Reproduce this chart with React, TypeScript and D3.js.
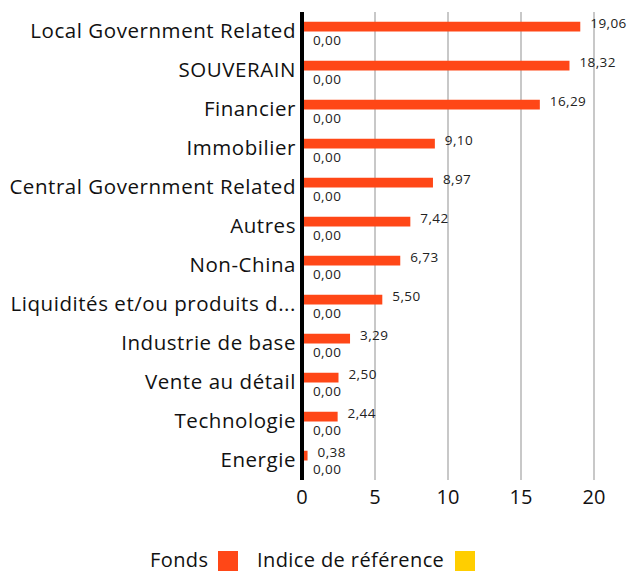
import React from "react";
import * as d3 from "d3";

const categories = [
  "Local Government Related",
  "SOUVERAIN",
  "Financier",
  "Immobilier",
  "Central Government Related",
  "Autres",
  "Non-China",
  "Liquidités et/ou produits d...",
  "Industrie de base",
  "Vente au détail",
  "Technologie",
  "Energie",
];
const fundValues = [19.06, 18.32, 16.29, 9.1, 8.97, 7.42, 6.73, 5.5, 3.29, 2.5, 2.44, 0.38];
const benchValues = [0, 0, 0, 0, 0, 0, 0, 0, 0, 0, 0, 0];
const xTicks = [0, 5, 10, 15, 20];
const seriesNames = ["Fonds", "Indice de référence"];
const seriesColors = ["#FF4717", "#FFCE00"];

const W = 628;
const H = 575;
const left = 302;
const right = 594;
const top = 12;
const bottom = 480;
const font = "'Open Sans', sans-serif";

const fmt = (v: number) => v.toFixed(2).replace(".", ",");

export default function App() {
  const x = d3.scaleLinear().domain([0, 20]).range([left, right]);
  const y = d3.scaleBand<string>().domain(categories).range([top, bottom]).paddingInner(0).paddingOuter(0);
  const sub = d3.scaleBand<string>().domain(["f", "b"]).range([0, y.bandwidth()]).paddingOuter(1).paddingInner(0);

  return (
    <svg width={W} height={H} style={{ position: "absolute", left: 0, top: 0 }}>
      {xTicks.map((t) =>
        t === 0 ? null : (
          <line key={"g" + t} x1={x(t)} x2={x(t)} y1={top} y2={bottom} stroke="#c8c8c8" strokeWidth={2} />
        )
      )}
      {categories.map((c, i) => {
        const y0 = y(c)!;
        const fy = y0 + sub("f")!;
        const by = y0 + sub("b")!;
        const bh = sub.bandwidth();
        return (
          <g key={c}>
            <text x={296} y={y0 + y.bandwidth() / 2 + 1} textAnchor="end" dominantBaseline="middle" fontFamily={font} fontSize={20.5} letterSpacing={0.55} fill="#111">
              {c}
            </text>
            <rect x={x(0)} y={fy} width={x(fundValues[i]) - x(0)} height={bh} fill={seriesColors[0]} />
            <rect x={x(0)} y={by} width={x(benchValues[i]) - x(0)} height={bh} fill={seriesColors[1]} />
            <text x={x(fundValues[i]) + 10} y={fy + bh / 2 - 2} dominantBaseline="middle" fontFamily={font} fontSize={13.5} letterSpacing={0.4} fill="#222">
              {fmt(fundValues[i])}
            </text>
            <text x={x(benchValues[i]) + 11} y={by + bh / 2 + 5} dominantBaseline="middle" fontFamily={font} fontSize={13.5} letterSpacing={0.4} fill="#222">
              {fmt(benchValues[i])}
            </text>
          </g>
        );
      })}
      <line x1={x(0)} x2={x(0)} y1={top} y2={bottom} stroke="#000" strokeWidth={4} />
      {xTicks.map((t) => (
        <text key={"t" + t} x={x(t)} y={499} textAnchor="middle" dominantBaseline="middle" fontFamily={font} fontSize={20} fill="#111">
          {t}
        </text>
      ))}
      <text x={150} y={562} dominantBaseline="middle" fontFamily={font} fontSize={20} letterSpacing={0.4} fill="#111">{seriesNames[0]}</text>
      <rect x={218} y={551} width={20} height={20} fill={seriesColors[0]} />
      <text x={257} y={562} dominantBaseline="middle" fontFamily={font} fontSize={20} letterSpacing={0.4} fill="#111">{seriesNames[1]}</text>
      <rect x={455} y={551} width={20} height={20} fill={seriesColors[1]} />
    </svg>
  );
}
